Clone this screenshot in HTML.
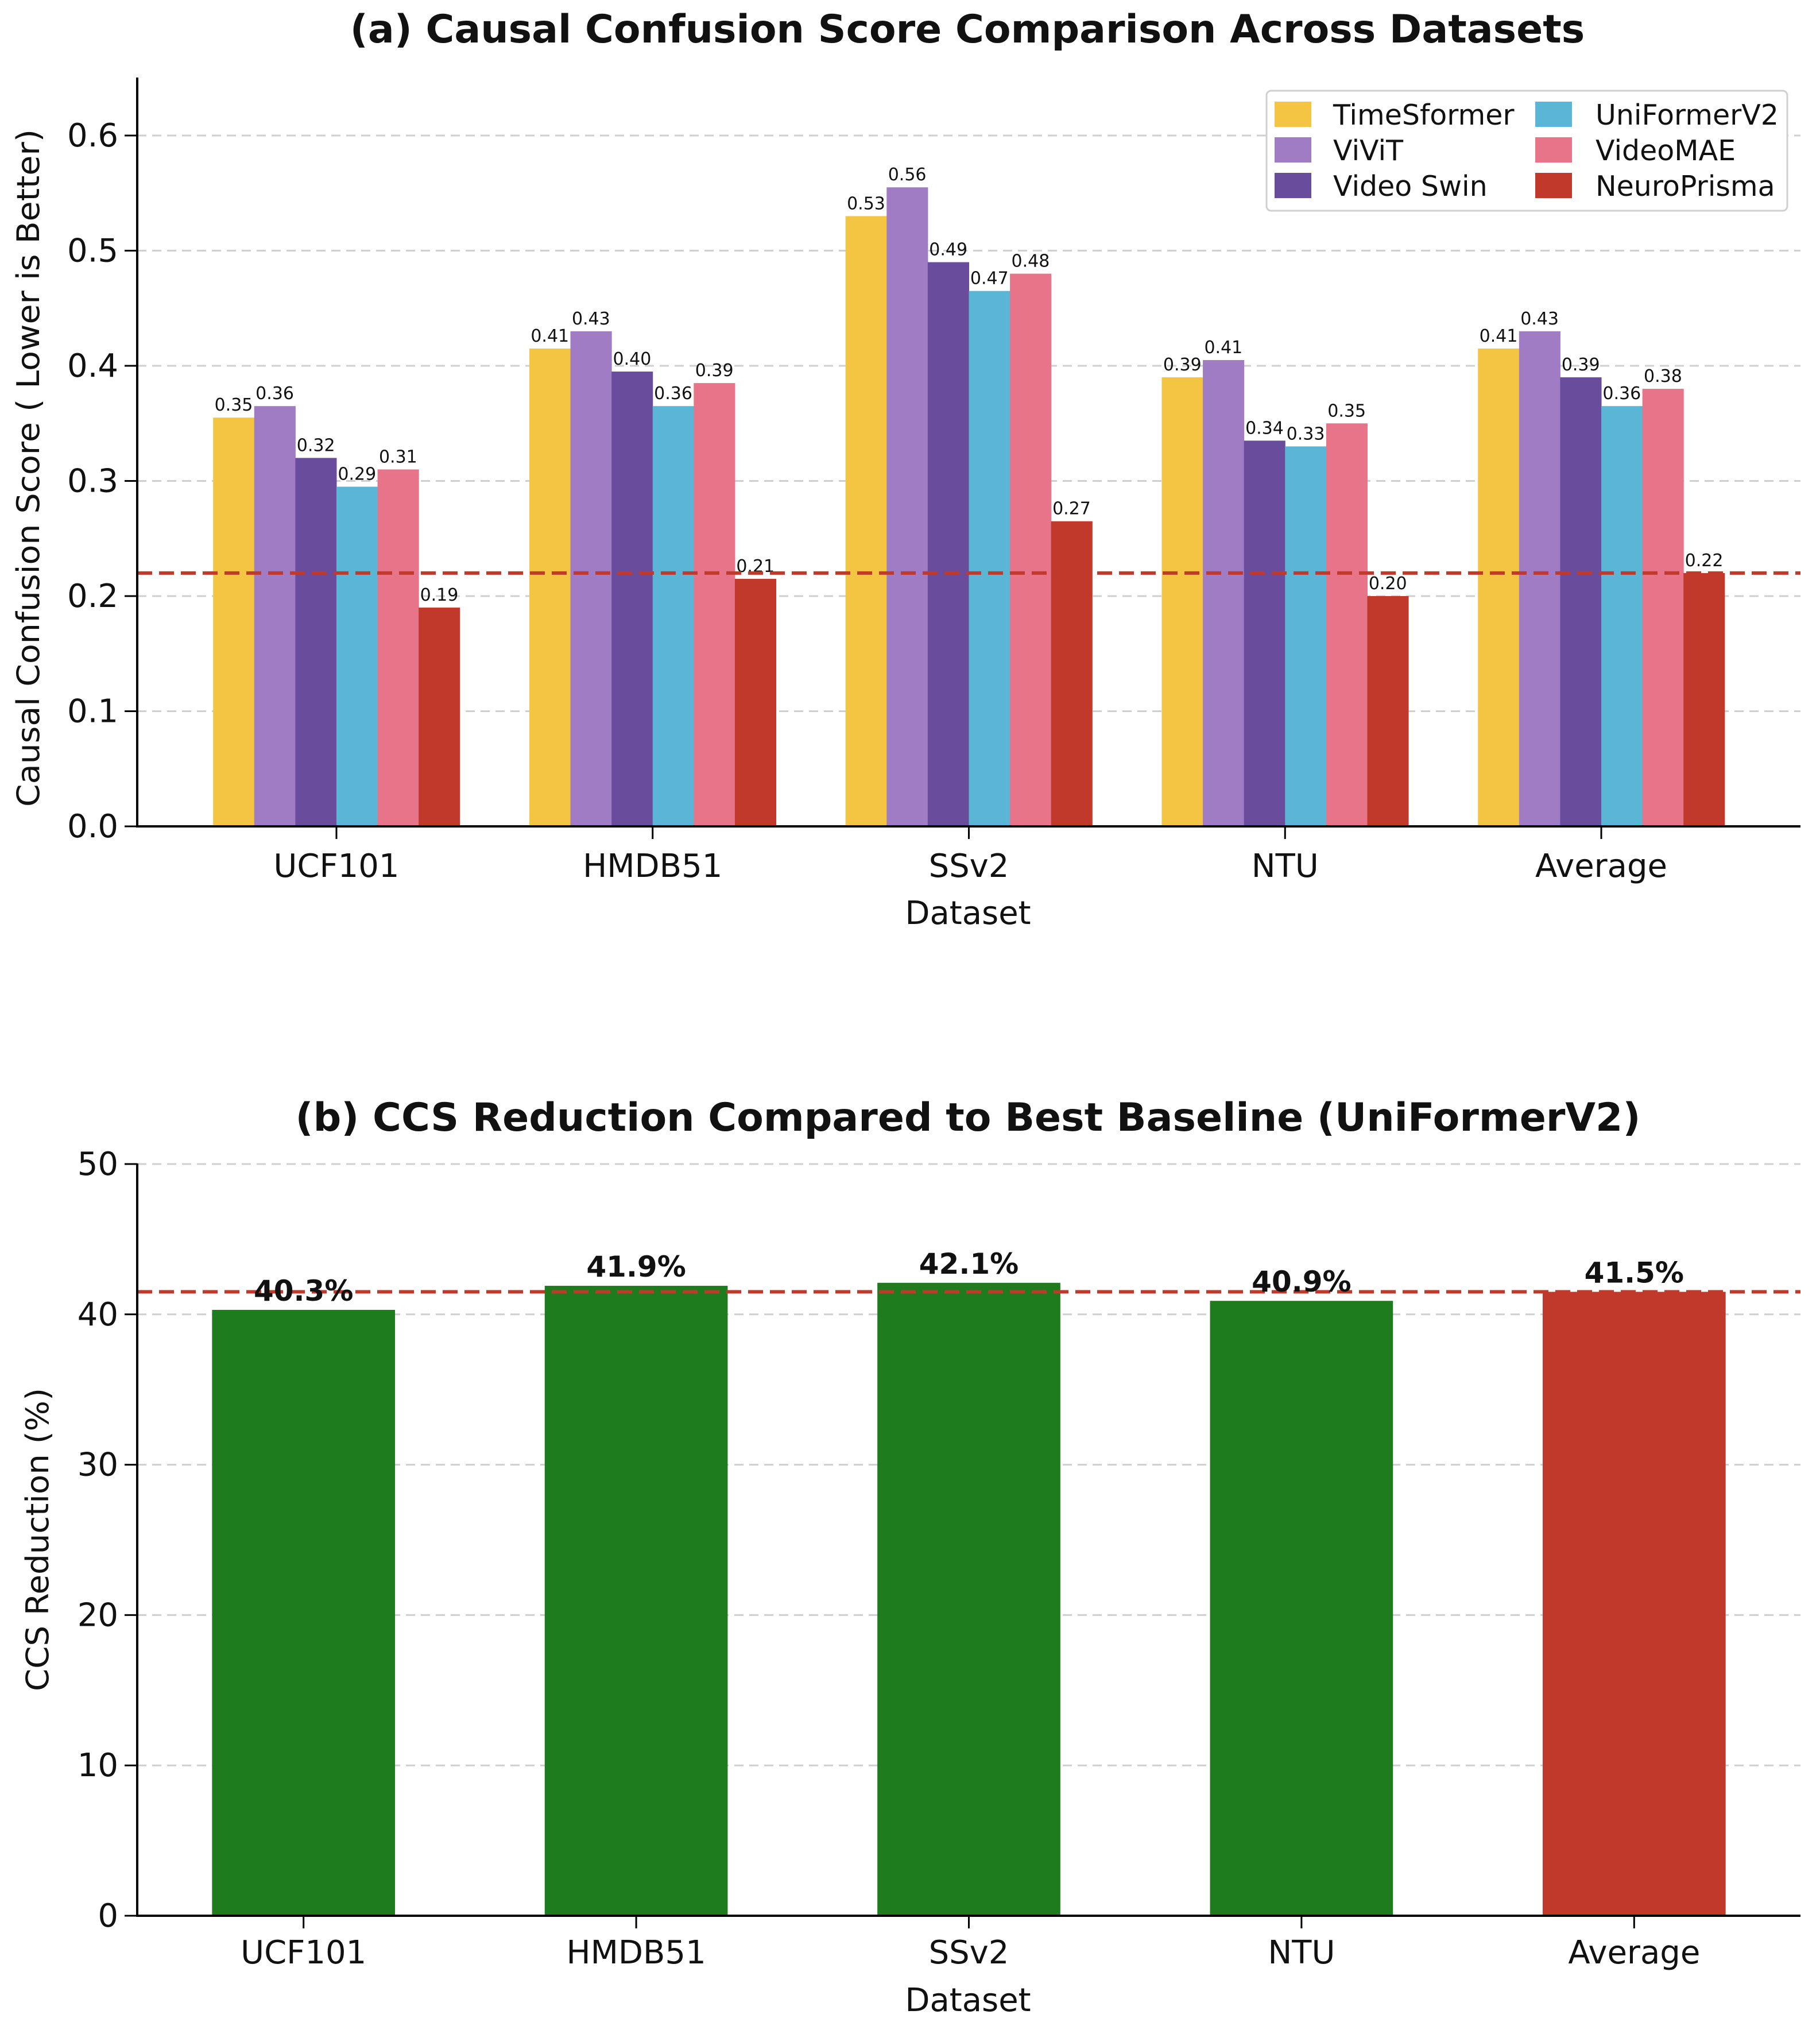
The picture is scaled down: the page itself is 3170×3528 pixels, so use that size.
<!DOCTYPE html>
<html><head><meta charset="utf-8"><style>
html,body{margin:0;padding:0;background:#fff;}
svg{display:block;font-family:"DejaVu Sans","Liberation Sans",sans-serif;}
</style></head><body>
<svg id="chart" width="3170" height="3528" viewBox="0 0 3170 3528" xmlns="http://www.w3.org/2000/svg"></svg>
<script>
const categories = ["UCF101","HMDB51","SSv2","NTU","Average"];
const models = ["TimeSformer","ViViT","Video Swin","UniFormerV2","VideoMAE","NeuroPrisma"];
const timesformer = [0.355,0.415,0.53,0.39,0.415];
const vivit = [0.365,0.43,0.555,0.405,0.43];
const videoSwin = [0.32,0.395,0.49,0.335,0.39];
const uniformer = [0.295,0.365,0.465,0.33,0.365];
const videomae = [0.31,0.385,0.48,0.35,0.38];
const neuroprisma = [0.19,0.215,0.265,0.20,0.22];
const labelsA = [
 ["0.35","0.41","0.53","0.39","0.41"],
 ["0.36","0.43","0.56","0.41","0.43"],
 ["0.32","0.40","0.49","0.34","0.39"],
 ["0.29","0.36","0.47","0.33","0.36"],
 ["0.31","0.39","0.48","0.35","0.38"],
 ["0.19","0.21","0.27","0.20","0.22"]];
const refLineA = 0.22;
const yTicksA = [0,0.1,0.2,0.3,0.4,0.5,0.6];
const reduction = [40.3,41.9,42.1,40.9,41.5];
const reductionLabels = ["40.3%","41.9%","42.1%","40.9%","41.5%"];
const refLineB = 41.5;
const yTicksB = [0,10,20,30,40,50];

const colors = ["#F4C542","#A07CC5","#6A4C9C","#5BB5D5","#E8748A","#C0392B"];
const series = [timesformer,vivit,videoSwin,uniformer,videomae,neuroprisma];
const NS="http://www.w3.org/2000/svg";
const svg=document.getElementById('chart');
function el(tag,attrs,parent,text){const e=document.createElementNS(NS,tag);for(const k in attrs)e.setAttribute(k,attrs[k]);if(text!==undefined)e.textContent=text;(parent||svg).appendChild(e);return e;}
const TF=56;

const axL=239, axR=3136;
const xA=i=>axL+(i+0.63)*(axR-axL)/5.26;
const yA=v=>1439-v*2005;
const bwA=0.13*(axR-axL)/5.26;
const gA=el('g',{});


let t=el('text',{x:1685,y:74,'text-anchor':'middle','font-size':68,'font-weight':'bold',fill:'#111'},gA,"(a) Causal Confusion Score Comparison Across Datasets");

yTicksA.forEach(v=>{
 if(v>0){const g=el('line',{x1:axL,x2:axR,y1:yA(v),y2:yA(v),stroke:'#cfcfcf','stroke-width':3,'stroke-dasharray':'16,10'},gA);}
 el('line',{x1:axL-22,x2:axL,y1:yA(v),y2:yA(v),stroke:'#000','stroke-width':3},gA);
 const tl=el('text',{x:axL-33,y:yA(v)+19,'text-anchor':'end','font-size':TF,fill:'#111'},gA,v.toFixed(1));
 
});
series.forEach((s,si)=>{
 s.forEach((v,ci)=>{
  const x=xA(ci)+(si-3)*bwA;
  const r=el('rect',{x:x,y:yA(v),width:bwA+0.5,height:yA(0)-yA(v),fill:colors[si]},gA);
  
  
  const l=el('text',{x:x+bwA/2,y:yA(v)-12,'text-anchor':'middle','font-size':30,fill:'#111'},gA,labelsA[si][ci]);
  
 });
});
let rl=el('line',{x1:axL,x2:axR,y1:yA(refLineA),y2:yA(refLineA),stroke:'#C0392B','stroke-width':6,'stroke-dasharray':'26,12'},gA);

el('line',{x1:axL,x2:axL,y1:135,y2:1440,stroke:'#000','stroke-width':4},gA);
el('line',{x1:axL-2,x2:axR,y1:1439,y2:1439,stroke:'#000','stroke-width':4},gA);
categories.forEach((c,i)=>{
 el('line',{x1:xA(i),x2:xA(i),y1:1439,y2:1461,stroke:'#000','stroke-width':3},gA);
 const tl=el('text',{x:xA(i),y:1527,'text-anchor':'middle','font-size':TF,fill:'#111'},gA,c);
 
});
t=el('text',{x:1686,y:1609,'text-anchor':'middle','font-size':TF,fill:'#111'},gA,"Dataset");

t=el('text',{x:0,y:0,'text-anchor':'middle','font-size':54,fill:'#111',transform:'translate(68,815) rotate(-90)',textLength:1180,lengthAdjust:'spacingAndGlyphs'},gA,"Causal Confusion Score ( Lower is Better)");

const lg=el('g',{},gA);

el('rect',{x:2206,y:158,width:907,height:209,rx:8,fill:'#fff',stroke:'#d0d0d0','stroke-width':3},lg);
models.forEach((m,i)=>{
 const col=Math.floor(i/3),row=i%3;
 const px=col?2674:2220, tx=col?2779:2322, cy=[199,261,323][row];
 const e=el('g',{},lg);
 
 el('rect',{x:px,y:cy-22,width:64,height:44,fill:colors[i]},e);
 el('text',{x:tx,y:cy+18,'font-size':49,fill:'#111'},e,m);
});

const xB=i=>axL+(i+0.5)*(axR-axL)/5;
const yB=v=>3336-v*26.18;
const bwB=0.55*(axR-axL)/5;
const gB=el('g',{});

t=el('text',{x:1686,y:1969,'text-anchor':'middle','font-size':68,'font-weight':'bold',fill:'#111'},gB,"(b) CCS Reduction Compared to Best Baseline (UniFormerV2)");

yTicksB.forEach(v=>{
 if(v>0){const g=el('line',{x1:axL,x2:axR,y1:yB(v),y2:yB(v),stroke:'#cfcfcf','stroke-width':3,'stroke-dasharray':'16,10'},gB);}
 el('line',{x1:axL-22,x2:axL,y1:yB(v),y2:yB(v),stroke:'#000','stroke-width':3},gB);
 const tl=el('text',{x:axL-33,y:yB(v)+19,'text-anchor':'end','font-size':TF,fill:'#111'},gB,String(v));
 
});
reduction.forEach((v,i)=>{
 const x=xB(i)-bwB/2;
 const r=el('rect',{x:x,y:yB(v),width:bwB,height:yB(0)-yB(v),fill:i===4?'#C0392B':'#1E7B1E'},gB);
 
});
rl=el('line',{x1:axL,x2:axR,y1:yB(refLineB),y2:yB(refLineB),stroke:'#C0392B','stroke-width':6,'stroke-dasharray':'26,12'},gB);

reduction.forEach((v,i)=>{
 const l=el('text',{x:xB(i),y:yB(v)-16,'text-anchor':'middle','font-size':50,'font-weight':'bold',fill:'#111'},gB,reductionLabels[i]);
 
});
el('line',{x1:axL,x2:axL,y1:2026,y2:3337,stroke:'#000','stroke-width':4},gB);
el('line',{x1:axL-2,x2:axR,y1:3336,y2:3336,stroke:'#000','stroke-width':4},gB);
categories.forEach((c,i)=>{
 el('line',{x1:xB(i),x2:xB(i),y1:3336,y2:3358,stroke:'#000','stroke-width':3},gB);
 const tl=el('text',{x:xB(i),y:3419,'text-anchor':'middle','font-size':TF,fill:'#111'},gB,c);
 
});
t=el('text',{x:1686,y:3502,'text-anchor':'middle','font-size':TF,fill:'#111'},gB,"Dataset");

t=el('text',{x:0,y:0,'text-anchor':'middle','font-size':54,fill:'#111',transform:'translate(84,2681) rotate(-90)',textLength:528,lengthAdjust:'spacingAndGlyphs'},gB,"CCS Reduction (%)");

</script>
</body></html>
